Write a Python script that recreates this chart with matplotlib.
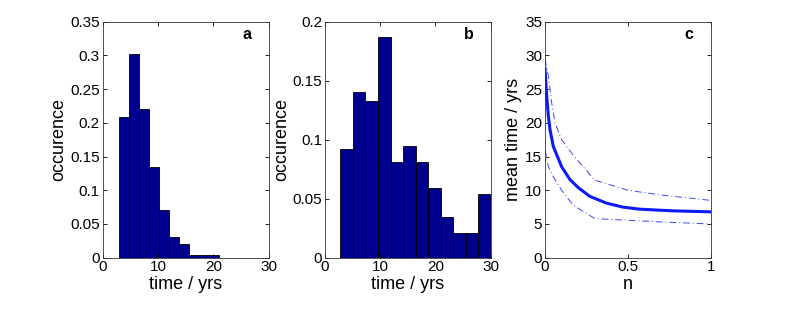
import numpy as np
import matplotlib
matplotlib.use('Agg')
import matplotlib.pyplot as plt

plt.rcParams['font.family'] = ['Liberation Sans', 'DejaVu Sans']

# panel a: histogram of times
a_edges = np.linspace(3.0, 21.0, 11)
a_vals = [0.208, 0.302, 0.220, 0.134, 0.070, 0.030, 0.021, 0.0045, 0.0045, 0.0045]

# panel b: histogram of times
b_edges = np.linspace(2.8, 30.0, 13)
b_vals = [0.0918, 0.1407, 0.1328, 0.1867, 0.0808, 0.0946, 0.0808, 0.0593,
          0.0347, 0.0209, 0.0209, 0.0537]

# panel c: mean time vs n, with bounds
n_main = [0.0, 0.01, 0.02, 0.03, 0.05, 0.1, 0.15, 0.2, 0.27, 0.37, 0.47, 0.57, 0.77, 1.0]
t_main = [28.0, 24.0, 21.0, 19.0, 16.5, 13.5, 11.6, 10.4, 9.1, 8.1, 7.5, 7.2, 6.95, 6.8]
n_up = [0.0, 0.02, 0.04, 0.06, 0.1, 0.17, 0.3, 0.5, 0.7, 1.0]
t_up = [29.5, 27.0, 23.0, 20.0, 17.5, 15.2, 11.5, 10.0, 9.3, 8.5]
n_lo = [0.0, 0.02, 0.05, 0.1, 0.17, 0.3, 0.5, 0.7, 1.0]
t_lo = [16.0, 13.5, 12.0, 10.0, 7.8, 5.8, 5.55, 5.3, 5.0]

bar_color = (0, 0, 0.5625)
line_color = (0.05, 0.1, 0.95)

fig = plt.figure(figsize=(7.85, 3.14), dpi=100)
ax_a = fig.add_axes([0.1308, 0.1793, 0.2115, 0.7516])
ax_b = fig.add_axes([0.4140, 0.1793, 0.2111, 0.7516])
ax_c = fig.add_axes([0.6943, 0.1793, 0.2111, 0.7516])

ax_a.bar(a_edges[:-1], a_vals, width=np.diff(a_edges), align='edge',
         color=bar_color, edgecolor='black', linewidth=0.6)
ax_a.set_xlim(0, 30)
ax_a.set_ylim(0, 0.35)
ax_a.set_xticks([0, 10, 20, 30])
ax_a.set_yticks(np.arange(0, 0.351, 0.05))
ax_a.set_yticklabels(['0', '0.05', '0.1', '0.15', '0.2', '0.25', '0.3', '0.35'])
ax_a.set_xlabel('time / yrs')
ax_a.set_ylabel('occurence')

ax_b.bar(b_edges[:-1], b_vals, width=np.diff(b_edges), align='edge',
         color=bar_color, edgecolor='black', linewidth=0.6)
ax_b.set_xlim(0, 30)
ax_b.set_ylim(0, 0.2)
ax_b.set_xticks([0, 10, 20, 30])
ax_b.set_yticks([0, 0.05, 0.1, 0.15, 0.2])
ax_b.set_yticklabels(['0', '0.05', '0.1', '0.15', '0.2'])
ax_b.set_xlabel('time / yrs')
ax_b.set_ylabel('occurence')

ax_c.plot(n_up, t_up, color=line_color, linewidth=0.7, alpha=0.8,
          dashes=(7, 3, 1, 3))
ax_c.plot(n_lo, t_lo, color=line_color, linewidth=0.7, alpha=0.8,
          dashes=(7, 3, 1, 3))
ax_c.plot(n_main, t_main, '-', color=line_color, linewidth=2.2)
ax_c.set_xlim(0, 1)
ax_c.set_ylim(0, 35)
ax_c.set_xticks([0, 0.5, 1])
ax_c.set_xticklabels(['0', '0.5', '1'])
ax_c.set_yticks(range(0, 36, 5))
ax_c.set_xlabel('n')
ax_c.set_ylabel('mean time / yrs')

for ax, letter in zip([ax_a, ax_b, ax_c], ['a', 'b', 'c']):
    ax.tick_params(direction='in', top=True, right=True, labelsize=11,
                   length=3, width=0.6, pad=2)
    ax.xaxis.label.set_size(13)
    ax.yaxis.label.set_size(13)
    ax.xaxis.labelpad = 1
    ax.yaxis.labelpad = 2
    for s in ax.spines.values():
        s.set_linewidth(0.6)
        s.set_color('#333333')
    ax.text(0.867, 0.944, letter, transform=ax.transAxes, ha='center',
            va='center', fontsize=11.5, fontweight='bold')

fig.savefig('out.png', dpi=100)
